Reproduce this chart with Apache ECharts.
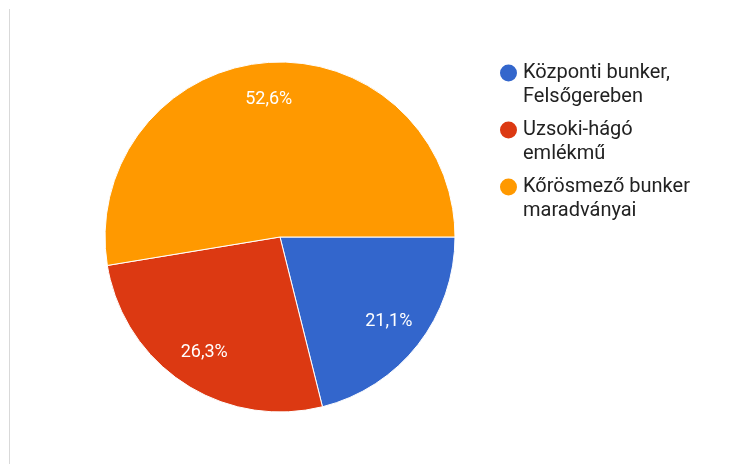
<!DOCTYPE html>
<html>
<head>
<meta charset="utf-8">
<script src="https://cdn.jsdelivr.net/npm/echarts@6/dist/echarts.min.js"></script>
<style>html,body{margin:0;padding:0;background:#fff;}#c{width:750px;height:464px;}</style>
</head>
<body>
<div id="c"></div>
<script>
const categories = ['Központi bunker,\nFelsőgereben', 'Uzsoki-hágó\nemlékmű', 'Kőrösmező bunker\nmaradványai'];
const percents = [21.1, 26.3, 52.6];
const colors = ['#3366cc', '#dc3912', '#ff9900'];

const chart = echarts.init(document.getElementById('c'), null, {renderer: 'canvas'});
const fmt = v => v.toFixed(1).replace('.', ',') + '%';
const mainData = categories.map((n, i) => ({name: n, value: percents[i], itemStyle: {color: colors[i]}}));
const labelData = categories.map((n, i) => ({name: n, value: percents[i]}));

chart.setOption({
  animation: false,
  backgroundColor: '#fff',
  legend: {
    orient: 'vertical',
    left: 498,
    top: 37,
    padding: 0,
    itemWidth: 19,
    itemHeight: 19,
    itemGap: -15,
    textGap: 10,
    icon: 'circle',
    selectedMode: false,
    data: categories,
    formatter: name => '\n' + name,
    textStyle: {fontFamily: 'Roboto', fontSize: 20, color: '#222', lineHeight: 24}
  },
  graphic: [{
    type: 'line', silent: true,
    shape: {x1: 9.5, y1: 9, x2: 9.5, y2: 464},
    style: {stroke: '#d9d9d9', lineWidth: 1}
  }],
  series: [{
    type: 'pie',
    center: [280, 237],
    radius: [0, 175],
    startAngle: 0,
    clockwise: true,
    silent: true,
    label: {show: false},
    labelLine: {show: false},
    itemStyle: {borderColor: '#fff', borderWidth: 1},
    data: mainData
  }, {
    type: 'pie',
    center: [280, 237],
    radius: [95, 175],
    startAngle: 0,
    clockwise: true,
    silent: true,
    legendHoverLink: false,
    itemStyle: {color: 'rgba(0,0,0,0)', borderWidth: 0},
    label: {
      show: true, position: 'inside',
      formatter: p => fmt(p.value),
      color: '#fff', fontFamily: 'Roboto', fontSize: 18
    },
    labelLine: {show: false},
    data: labelData
  }]
});
</script>
</body>
</html>
